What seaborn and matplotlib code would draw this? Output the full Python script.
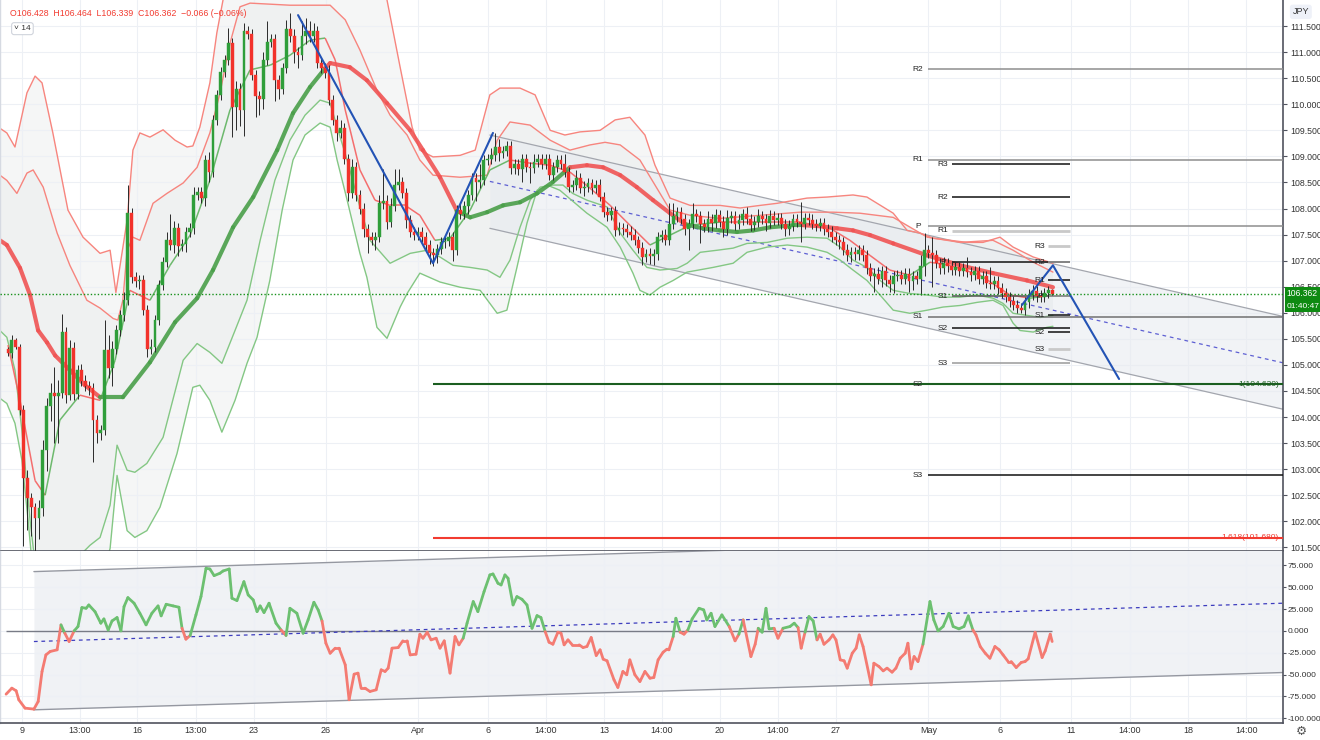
import numpy as np
import matplotlib
matplotlib.use("Agg")
import matplotlib.pyplot as plt
import seaborn as sns
from matplotlib.collections import LineCollection
from matplotlib.ticker import FormatStrFormatter
from matplotlib.transforms import blended_transform_factory

sns.set_theme(style="white")
plt.rcParams['font.family'] = ['Liberation Sans', 'DejaVu Sans']
plt.rcParams['axes.unicode_minus'] = False

# ---------------- data (USDJPY 4h bars, open = previous close) ----------------
first_open = 105.30
close_px = [
    105.22, 105.47, 105.35, 104.13, 102.83, 102.44, 102.27, 102.06, 102.25, 103.36,
    104.22, 104.46, 104.40, 104.46, 105.63, 104.42, 105.33, 104.45, 104.90, 104.70,
    104.60, 104.55, 103.94, 103.70, 103.75, 105.28, 104.95, 105.30, 105.66, 105.95,
    106.24, 107.91, 106.68, 106.60, 106.62, 106.05, 105.30, 105.35, 105.86, 106.53,
    106.97, 107.39, 107.30, 107.62, 107.28, 107.32, 107.55, 107.62, 108.26, 108.31,
    108.20, 108.93, 108.70, 109.70, 110.18, 110.62, 110.85, 111.17, 109.95, 110.30,
    109.89, 111.40, 111.35, 110.56, 110.15, 110.10, 110.85, 111.20, 111.25, 110.46,
    110.30, 110.70, 111.45, 111.30, 111.00, 110.95, 111.30, 111.40, 111.30, 111.40,
    110.80, 110.70, 110.60, 110.08, 109.70, 109.45, 109.55, 108.95, 108.30, 108.80,
    108.25, 108.00, 107.60, 107.45, 107.40, 107.45, 108.10, 108.15, 107.75, 108.05,
    108.45, 108.50, 108.30, 107.78, 107.55, 107.50, 107.55, 107.45, 107.30, 107.14,
    107.10, 107.22, 107.35, 107.38, 107.45, 107.20, 107.97, 107.90, 108.05, 108.26,
    108.58, 108.50, 108.55, 108.93, 108.95, 109.02, 109.18, 109.06, 109.10, 109.20,
    108.77, 108.85, 108.75, 108.95, 108.80, 108.78, 108.90, 108.95, 108.85, 108.95,
    108.64, 108.80, 108.93, 108.85, 108.70, 108.41, 108.45, 108.58, 108.39, 108.42,
    108.48, 108.40, 108.45, 108.22, 107.93, 107.88, 107.95, 107.58, 107.62, 107.60,
    107.55, 107.50, 107.40, 107.25, 107.07, 107.12, 107.08, 107.12, 107.45, 107.50,
    107.40, 107.70, 107.85, 107.93, 107.80, 107.60, 107.70, 107.90, 107.85, 107.70,
    107.65, 107.80, 107.72, 107.88, 107.75, 107.60, 107.82, 107.85, 107.70, 107.78,
    107.90, 107.80, 107.68, 107.75, 107.85, 107.80, 107.72, 107.86, 107.78, 107.82,
    107.70, 107.60, 107.66, 107.80, 107.75, 107.70, 107.82, 107.78, 107.70, 107.66,
    107.72, 107.60, 107.55, 107.45, 107.40, 107.35, 107.20, 107.10, 107.16, 107.12,
    107.20, 107.10, 106.85, 106.70, 106.75, 106.65, 106.80, 106.62, 106.55, 106.70,
    106.72, 106.65, 106.75, 106.60, 106.70, 106.65, 106.90, 107.20, 107.15, 107.10,
    106.95, 106.85, 106.95, 106.90, 106.82, 106.88, 106.80, 106.85, 106.78, 106.72,
    106.80, 106.65, 106.70, 106.58, 106.55, 106.60, 106.48, 106.38, 106.30, 106.22,
    106.15, 106.10, 106.05, 106.20, 106.35, 106.42, 106.33, 106.30, 106.38, 106.428, 106.362,
]
up_wick = [
    0.05, 0.10, 0.05, 0.05, 0.10, 0.15, 0.10, 0.08, 0.15, 0.20,
    0.15, 0.20, 0.50, 0.25, 0.35, 0.10, 0.15, 0.10, 0.10, 0.12,
    0.10, 0.10, 0.10, 0.10, 0.10, 0.58, 0.30, 0.15, 0.10, 0.10,
    0.15, 0.54, 0.10, 0.10, 0.10, 0.10, 0.10, 0.15, 0.10, 0.10,
    0.10, 0.15, 0.50, 0.15, 0.10, 0.10, 0.10, 0.10, 0.15, 0.10,
    0.10, 0.10, 0.15, 0.10, 0.10, 0.10, 0.10, 0.30, 0.10, 0.15,
    0.10, 0.15, 0.10, 0.10, 0.10, 0.10, 0.15, 0.40, 0.10, 0.10,
    0.10, 0.10, 0.17, 0.30, 0.15, 0.10, 0.30, 0.25, 0.20, 0.15,
    0.10, 0.10, 0.10, 0.15, 0.10, 0.10, 0.15, 0.10, 0.10, 0.15,
    0.10, 0.10, 0.10, 0.10, 0.10, 0.10, 0.15, 0.60, 0.10, 0.15,
    0.30, 0.25, 0.10, 0.10, 0.10, 0.10, 0.10, 0.10, 0.10, 0.10,
    0.10, 0.10, 0.10, 0.10, 0.10, 0.10, 0.10, 0.15, 0.10, 0.10,
    0.10, 0.10, 0.30, 0.10, 0.10, 0.15, 0.27, 0.15, 0.10, 0.10,
    0.10, 0.10, 0.10, 0.10, 0.10, 0.10, 0.15, 0.10, 0.10, 0.10,
    0.10, 0.10, 0.10, 0.10, 0.20, 0.10, 0.10, 0.15, 0.10, 0.10,
    0.10, 0.08, 0.10, 0.12, 0.10, 0.10, 0.08, 0.10, 0.12, 0.10,
    0.10, 0.12, 0.10, 0.08, 0.10, 0.10, 0.12, 0.10, 0.10, 0.08,
    0.10, 0.40, 0.25, 0.10, 0.10, 0.10, 0.10, 0.20, 0.10, 0.10,
    0.10, 0.15, 0.10, 0.12, 0.10, 0.10, 0.15, 0.10, 0.10, 0.12,
    0.10, 0.12, 0.10, 0.10, 0.15, 0.10, 0.10, 0.12, 0.10, 0.10,
    0.10, 0.10, 0.12, 0.10, 0.10, 0.38, 0.10, 0.10, 0.12, 0.10,
    0.10, 0.10, 0.10, 0.12, 0.10, 0.10, 0.10, 0.12, 0.10, 0.10,
    0.10, 0.10, 0.10, 0.10, 0.10, 0.12, 0.10, 0.10, 0.10, 0.10,
    0.10, 0.10, 0.10, 0.10, 0.10, 0.10, 0.20, 0.33, 0.10, 0.30,
    0.10, 0.10, 0.12, 0.10, 0.10, 0.10, 0.10, 0.10, 0.22, 0.10,
    0.10, 0.10, 0.10, 0.10, 0.30, 0.10, 0.10, 0.10, 0.10, 0.10,
    0.10, 0.10, 0.08, 0.10, 0.10, 0.12, 0.10, 0.10, 0.10, 0.08, 0.036,
]
dn_wick = [
    0.05, 0.08, 0.05, 0.10, 1.30, 0.60, 0.55, 0.90, 0.40, 0.15,
    0.40, 0.30, 0.90, 0.90, 0.10, 0.15, 0.10, 0.12, 0.10, 0.10,
    0.10, 0.12, 0.80, 0.20, 0.15, 0.10, 0.20, 0.35, 0.10, 0.10,
    0.10, 0.10, 0.10, 0.10, 0.15, 0.10, 0.15, 0.10, 0.10, 0.10,
    0.10, 0.10, 0.10, 0.15, 0.20, 0.10, 0.15, 0.10, 0.10, 0.10,
    0.10, 0.15, 0.20, 0.10, 0.10, 0.10, 0.10, 0.10, 0.58, 0.45,
    0.30, 0.50, 0.10, 0.10, 0.40, 0.30, 0.20, 0.10, 0.10, 0.40,
    0.20, 0.10, 0.10, 0.10, 0.20, 0.25, 0.10, 0.15, 0.10, 0.10,
    0.10, 0.10, 0.10, 0.10, 0.10, 0.15, 0.10, 0.10, 0.15, 0.10,
    0.10, 0.10, 0.15, 0.30, 0.10, 0.20, 0.10, 0.10, 0.15, 0.10,
    0.10, 0.10, 0.10, 0.15, 0.10, 0.10, 0.10, 0.10, 0.10, 0.20,
    0.20, 0.15, 0.10, 0.10, 0.10, 0.20, 0.10, 0.10, 0.10, 0.15,
    0.10, 0.35, 0.10, 0.10, 0.10, 0.10, 0.10, 0.15, 0.10, 0.10,
    0.10, 0.10, 0.10, 0.25, 0.10, 0.30, 0.10, 0.10, 0.10, 0.10,
    0.10, 0.10, 0.10, 0.10, 0.10, 0.10, 0.10, 0.10, 0.10, 0.15,
    0.10, 0.12, 0.10, 0.08, 0.10, 0.12, 0.10, 0.10, 0.08, 0.10,
    0.10, 0.10, 0.10, 0.10, 0.16, 0.10, 0.15, 0.17, 0.10, 0.10,
    0.10, 0.10, 0.10, 0.10, 0.10, 0.10, 0.40, 0.10, 0.10, 0.37,
    0.10, 0.10, 0.15, 0.10, 0.10, 0.15, 0.10, 0.10, 0.12, 0.10,
    0.10, 0.10, 0.12, 0.10, 0.10, 0.10, 0.15, 0.10, 0.10, 0.10,
    0.10, 0.12, 0.10, 0.10, 0.10, 0.35, 0.10, 0.10, 0.10, 0.10,
    0.10, 0.10, 0.10, 0.10, 0.10, 0.12, 0.10, 0.10, 0.12, 0.10,
    0.10, 0.10, 0.10, 0.10, 0.30, 0.10, 0.15, 0.10, 0.15, 0.18,
    0.10, 0.10, 0.10, 0.20, 0.17, 0.10, 0.30, 0.20, 0.10, 0.60,
    0.10, 0.10, 0.10, 0.12, 0.10, 0.10, 0.10, 0.10, 0.10, 0.12,
    0.10, 0.10, 0.10, 0.10, 0.10, 0.10, 0.12, 0.10, 0.10, 0.10,
    0.10, 0.10, 0.05, 0.10, 0.10, 0.10, 0.13, 0.10, 0.10, 0.10, 0.023,
]

# envelope bands (bar index, price)
uo_x = [-2.1, -0.3, 1.8, 4.9, 7.0, 8.8, 11.6, 15.5, 19.4, 23.8, 26.4, 27.9, 30.8, 32.3, 34.1,
        36.7, 40.1, 43.2, 46.3, 47.8, 49.6, 52.2, 54.0, 55.6, 57.4, 75.5, 94.9, 98.0, 101.4, 104.5,
        106.5, 109.9, 116.9, 120.8, 124.6, 127.2, 132.4, 136.3, 140.2, 144.0, 147.9, 153.1, 157.0,
        160.8, 164.7, 167.3, 171.2, 176.4, 184.1, 189.3, 194.5, 198.9, 206.6, 211.8, 218.5, 222.1,
        228.9, 232.5, 235.8, 239.2, 243.6, 248.0, 252.1, 256.5, 259.9, 265.1, 270.2]
uo_y = [109.54, 109.45, 109.18, 110.22, 110.54, 110.41, 109.45, 107.97, 107.45, 107.14, 107.20,
        106.39, 107.78, 109.12, 109.45, 109.37, 109.51, 109.31, 109.18, 109.20, 109.56, 110.41,
        111.37, 112.00, 112.48, 112.77, 112.48, 112.00, 110.71, 109.56, 109.12, 108.99, 109.02,
        109.12, 110.18, 110.31, 110.31, 110.18, 109.50, 109.41, 109.47, 109.50, 109.70, 109.75,
        109.41, 108.83, 108.20, 108.06, 108.06, 108.01, 108.06, 108.10, 108.20, 108.22, 108.26,
        108.22, 107.91, 107.58, 107.53, 107.43, 107.39, 107.35, 107.35, 107.45, 107.26, 107.07, 106.95]
ui_x = [-2.1, -0.3, 2.3, 4.9, 6.5, 9.1, 12.7, 16.0, 20.4, 23.8, 27.2, 28.4, 29.7, 30.8, 32.3,
        34.1, 37.5, 41.1, 45.3, 48.9, 52.2, 54.8, 57.4, 60.0, 62.6, 72.9, 83.3, 87.2, 91.0, 95.4,
        98.8, 103.2, 106.5, 109.9, 116.9, 123.9, 126.5, 129.8, 135.0, 140.2, 145.3, 150.5, 154.4,
        158.3, 163.4, 167.3, 171.2, 176.4, 184.1, 194.5, 204.8, 213.3, 220.3, 228.9, 237.7, 246.2,
        254.7, 259.9, 265.1, 270.2]
ui_y = [108.64, 108.54, 108.29, 108.68, 108.74, 108.41, 107.53, 106.91, 106.24, 106.09, 105.89,
        105.86, 106.24, 107.20, 107.45, 107.39, 108.10, 108.29, 108.49, 108.79, 109.45, 110.21,
        111.17, 111.87, 111.94, 111.90, 111.90, 111.62, 111.04, 110.27, 109.79, 109.41, 108.93,
        108.64, 108.60, 108.64, 109.31, 109.66, 109.60, 109.31, 109.12, 109.22, 109.27, 109.22,
        108.93, 108.45, 107.97, 107.87, 107.81, 107.87, 107.93, 107.93, 107.91, 107.83, 107.45,
        107.35, 107.39, 107.20, 106.97, 106.78]
la_x = [-2.1, -0.3, 1.8, 3.6, 5.7, 7.2, 13.4, 17.3, 21.2, 23.8, 26.4, 28.2, 30.8, 32.8, 35.9,
        40.1, 45.3, 48.9, 52.2, 55.3, 58.7, 61.8, 65.2, 69.0, 72.9, 76.8, 80.7, 83.3, 85.1, 87.7,
        91.0, 93.6, 98.8, 104.0, 108.4, 111.7, 115.1, 119.5, 123.9, 127.2, 129.8, 132.4, 135.0,
        137.6, 140.9, 143.5, 146.0, 149.7, 154.9, 158.3, 161.6, 165.2, 168.6, 173.0, 175.6, 179.0,
        183.4, 187.5, 191.1, 196.3, 201.5, 206.6, 211.8, 215.2, 218.5, 222.1, 225.5, 228.9, 233.2,
        237.7, 241.8, 246.2, 250.6, 254.7, 257.3, 259.9, 263.5, 266.9, 270.2]
la_y = [105.66, 105.53, 104.90, 103.74, 102.02, 101.06, 100.86, 101.25, 101.54, 101.69, 102.31,
        103.46, 102.98, 102.94, 103.11, 103.61, 105.09, 105.41, 105.24, 105.03, 105.66, 106.24,
        107.39, 108.54, 109.31, 109.79, 110.08, 110.02, 109.56, 108.93, 108.03, 107.39, 106.95,
        107.14, 107.20, 107.07, 106.91, 106.87, 106.82, 106.68, 107.01, 107.64, 108.16, 108.41,
        108.45, 108.45, 108.29, 108.16, 108.03, 107.53, 107.20, 106.87, 106.82, 106.85, 106.95,
        107.16, 107.20, 107.24, 107.33, 107.35, 107.43, 107.45, 107.43, 107.26, 107.01, 106.87,
        106.62, 106.43, 106.37, 106.34, 106.30, 106.30, 106.34, 106.28, 106.18, 105.99, 105.95,
        105.91, 105.95]
lb_x = [-2.1, -0.3, 1.8, 3.6, 5.2, 6.5, 13.4, 23.8, 26.4, 28.2, 30.8, 32.8, 35.9, 39.3, 43.7,
        47.8, 49.6, 52.2, 55.3, 58.7, 61.8, 64.4, 67.7, 70.9, 73.7, 76.8, 80.7, 83.3, 85.1, 87.7,
        91.0, 92.8, 95.4, 98.0, 101.4, 103.2, 106.5, 111.7, 116.9, 122.1, 126.5, 129.0, 131.6,
        134.2, 136.8, 139.4, 142.7, 149.7, 154.9, 158.3, 161.6, 163.4, 166.0, 168.6, 172.0, 175.6,
        182.3, 187.5, 191.1, 196.3, 201.5, 206.6, 211.8, 215.2, 218.5, 222.1, 225.5, 228.9, 233.2,
        237.7, 241.8, 246.2, 250.6, 254.7, 257.3, 259.9, 261.7, 265.1, 268.6, 270.2]
lb_y = [104.36, 104.26, 103.88, 103.17, 102.02, 100.96, 100.77, 100.77, 101.48, 102.88, 101.82,
        101.69, 101.82, 102.27, 103.30, 104.57, 104.61, 104.32, 103.71, 104.32, 105.03, 105.53,
        106.62, 107.97, 108.93, 109.41, 109.64, 109.56, 108.93, 108.16, 107.14, 106.68, 105.72,
        105.51, 106.11, 106.37, 106.76, 106.59, 106.49, 106.43, 105.99, 106.05, 106.87, 107.72,
        108.35, 108.45, 108.35, 107.91, 107.64, 107.26, 106.76, 106.43, 106.34, 106.49, 106.62,
        106.78, 106.87, 106.95, 107.16, 107.26, 107.30, 107.26, 107.16, 107.01, 106.82, 106.62,
        106.34, 106.05, 105.99, 106.05, 106.11, 106.14, 106.20, 106.24, 106.14, 105.80, 105.66,
        105.63, 105.72, 105.74]

# fast line hugging price
fast_x = [0.0, 3.1, 7.0, 9.6, 13.4, 18.6, 23.8, 27.7, 31.5, 36.7, 41.9, 47.1, 52.2, 57.4, 62.6,
          67.8, 72.9, 78.1, 82.0, 84.6, 87.2, 91.0, 94.9, 98.8, 102.7, 106.5, 110.4, 114.3, 119.5,
          124.6, 129.8, 135.0, 140.2, 145.3, 150.5, 155.7, 160.8, 166.0, 171.2, 176.4, 184.1, 194.5,
          204.8, 212.6, 217.7, 222.9, 228.0, 233.2, 238.4, 243.6, 251.4, 259.1, 264.3, 270.2]
fast_y = [105.38, 104.32, 102.78, 102.50, 103.94, 104.42, 104.32, 105.09, 106.43, 106.24, 106.91,
          107.49, 108.54, 109.89, 110.66, 110.75, 110.94, 111.23, 111.27, 110.85, 109.89, 108.74,
          108.16, 108.06, 108.06, 107.87, 107.39, 107.43, 107.97, 108.74, 108.93, 108.87, 108.83,
          108.70, 108.39, 108.06, 107.68, 107.30, 107.49, 107.68, 107.74, 107.74, 107.74, 107.62,
          107.39, 107.10, 106.82, 106.72, 106.97, 106.91, 106.72, 106.34, 106.28, 106.34]

# thick trend line and its state (1 = bullish segment)
trend_x = [-2.1, -0.3, 3.1, 5.7, 7.8, 10.1, 12.2, 16.0, 19.9, 23.8,
           29.7, 36.7, 43.2, 48.9, 53.0, 58.2, 63.4, 69.6, 73.7, 78.1, 82.0,
           83.3, 88.4, 92.8, 98.0, 104.0, 107.3, 111.7, 116.1,
           119.5, 123.9, 128.0, 132.4, 136.8, 140.9, 145.3,
           149.7, 153.9, 158.3, 162.6, 166.8, 171.2, 175.1,
           179.7, 184.1, 188.5, 192.7, 197.1, 203.0, 205.6,
           210.0, 214.4, 218.5, 222.9, 228.9, 237.7, 246.2, 254.7, 263.5, 270.2]
trend_y = [107.39, 107.30, 106.86, 106.34, 105.66, 105.43, 105.18, 104.90, 104.61, 104.38,
           104.38, 105.05, 105.82, 106.28, 106.82, 107.64, 108.22, 109.12, 109.83, 110.33, 110.69,
           110.79, 110.71, 110.46, 110.02, 109.50, 109.12, 108.60, 107.95,
           107.83, 107.93, 108.06, 108.12, 108.29, 108.51, 108.79,
           108.83, 108.79, 108.64, 108.41, 108.16, 107.91, 107.70,
           107.62, 107.58, 107.55, 107.58, 107.64, 107.68, 107.68,
           107.66, 107.62, 107.58, 107.49, 107.33, 107.10, 106.91, 106.76, 106.62, 106.49]
trend_bull = [0, 0, 0, 0, 0, 0, 0, 0, 0, 1,
              1, 1, 1, 1, 1, 1, 1, 1, 1, 1, 0,
              0, 0, 0, 0, 0, 0, 0, 1,
              1, 1, 1, 1, 1, 1, 0,
              0, 0, 0, 0, 0, 0, 1,
              1, 1, 1, 1, 1, 1, 0,
              0, 0, 0, 0, 0, 0, 0, 0, 0, 0]

# drawings: descending channel, ABCD legs
chan_x = [124.6, 329.7]
chan_hi = [109.41, 105.93]
chan_lo = [107.62, 104.15]
chan_mid = [108.52, 105.04]
leg1_x = [75.0, 109.9, 125.4]
leg1_y = [111.71, 106.95, 109.45]
leg2_x = [262.2, 270.2, 287.3]
leg2_y = [106.15, 106.91, 104.73]

# pivot levels (three pivot sets) and fib extensions
piv1_names = ['R2', 'R1', 'P', 'S1', 'S2', 'S3']
piv1_levels = [110.67, 108.94, 107.66, 105.92, 104.63, 102.88]
piv1_colors = ['#8e8e8e', '#8e8e8e', '#8e8e8e', '#707070', '#333333', '#111111']
piv2_names = ['R3', 'R2', 'R1', 'P', 'S1', 'S2', 'S3']
piv2_levels = [108.85, 108.22, 107.57, 106.97, 106.32, 105.70, 105.03]
piv2_colors = ['#111111', '#111111', '#c9c9c9', '#111111', '#555555', '#111111', '#9a9a9a']
piv3_names = ['R3', 'R2', 'R1', 'P', 'S1', 'S2', 'S3']
piv3_levels = [107.28, 106.97, 106.62, 106.32, 105.95, 105.63, 105.30]
piv3_colors = ['#c9c9c9', '#9a9a9a', '#111111', '#9a9a9a', '#111111', '#111111', '#c9c9c9']
fib_names = ['1(104.630)', '1.618(101.680)']
fib_levels = [104.63, 101.68]
fib_colors = ['#1b5e20', '#f23b30']

# oscillator (bar index, value)
osc_pts = [(-0.5, -72.5), (1.0, -65.6), (2.1, -68.6), (2.8, -79.0), (4.4, -88.5), (6.7, -89.6),
           (7.8, -80.9), (8.8, -46.5), (9.8, -27.5), (10.9, -23.6), (12.7, -21.7), (13.7, 6.9),
           (14.7, -2.7), (15.8, -12.2), (17.1, 0.0), (18.1, 5.0), (19.1, 26.7), (20.2, 25.9),
           (20.9, 29.7), (22.5, 22.0), (24.0, 8.8), (24.8, 13.7), (25.9, 1.0), (26.9, 11.4),
           (28.2, 15.3), (29.2, 0.0), (30.0, 27.8), (31.0, 38.1), (32.6, 31.7), (34.1, 20.2),
           (35.7, 6.9), (37.2, 20.2), (38.8, 28.6), (39.6, 17.2), (40.9, 30.5), (42.7, 28.6),
           (44.2, 27.1), (45.0, 3.0), (46.0, -9.5), (47.1, -5.3), (48.6, 18.3), (49.9, 39.3),
           (51.2, 71.7), (52.2, 70.9), (53.3, 63.3), (54.8, 66.0), (55.6, 68.6), (57.2, 70.9),
           (57.9, 37.4), (59.2, 34.7), (61.0, 56.4), (62.1, 41.2), (63.4, 35.5), (64.4, 22.1),
           (65.2, 28.6), (66.2, 21.0), (67.5, 31.7), (69.3, 8.8), (70.6, 1.1), (71.9, -5.3),
           (72.9, 25.9), (74.7, 20.2), (76.3, -2.7), (77.6, 12.6), (79.1, 32.8), (80.2, 24.0),
           (81.2, 11.4), (82.2, -14.1), (83.3, -25.6), (84.6, -19.8), (85.6, -19.8), (87.2, -38.9),
           (88.2, -78.9), (89.5, -49.6), (90.5, -48.4), (91.3, -65.6), (92.3, -65.6), (93.6, -69.4),
           (95.2, -67.5), (96.5, -44.6), (97.5, -46.5), (98.3, -42.7), (99.3, -19.8), (100.9, -19.1),
           (102.1, -11.4), (103.2, -11.4), (104.0, -27.5), (105.5, -26.7), (106.5, -3.8), (107.3, -8.4),
           (108.4, -1.5), (109.4, -10.3), (110.7, -8.4), (111.7, -19.8), (112.8, -11.4), (114.3, -48.4),
           (115.6, -6.5), (116.6, -16.0), (117.7, -8.4), (118.7, 8.8), (120.3, 33.6), (121.5, 22.1),
           (123.1, 45.0), (124.6, 64.1), (125.4, 65.2), (126.7, 54.5), (127.5, 52.6), (128.5, 64.1),
           (129.3, 60.3), (130.6, 29.7), (131.6, 39.3), (132.9, 36.2), (134.2, 29.7), (135.5, 3.0),
           (136.8, 17.5), (137.8, 15.3), (138.9, -0.8), (139.9, -13.0), (140.9, -15.3), (142.2, -1.5),
           (143.0, -2.7), (143.8, -16.0), (144.8, -10.3), (145.9, -16.0), (147.7, -16.0), (148.7, -19.1),
           (149.7, -17.9), (150.8, -7.6), (152.1, -28.2), (153.1, -21.7), (153.9, -32.4), (154.9, -34.3),
           (156.7, -56.1), (157.7, -64.8), (159.0, -46.5), (160.0, -50.3), (160.8, -33.2), (162.1, -50.3),
           (163.4, -58.0), (164.7, -46.5), (166.0, -54.2), (167.0, -53.4), (168.1, -33.2), (169.4, -24.4),
           (170.4, -21.0), (170.9, -21.7), (172.0, -6.5), (172.7, 14.5), (173.8, -1.5), (174.8, -3.8),
           (175.8, 1.1), (176.9, 13.7), (178.7, 25.9), (179.9, 24.0), (180.7, 12.6), (181.8, 20.2),
           (182.8, 5.0), (184.6, 18.3), (186.5, 5.0), (188.0, -11.4), (189.0, -3.8), (190.1, 12.6),
           (192.1, -29.4), (193.2, -15.3), (194.0, 3.0), (195.0, -1.5), (196.0, 25.9), (196.8, 2.3),
           (198.1, 3.0), (199.1, -8.4), (200.4, 3.0), (202.2, 5.0), (203.3, 8.8), (204.3, 3.8),
           (205.1, -19.8), (206.1, -1.5), (207.1, 16.4), (208.2, 11.4), (209.2, -10.3), (210.0, -3.8),
           (211.0, -15.3), (212.3, -10.3), (213.3, -4.6), (214.1, -10.3), (215.2, -33.2), (216.2, -34.3),
           (217.0, -42.7), (218.3, -25.6), (219.3, -19.8), (220.1, -4.6), (221.1, -17.9), (223.2, -61.8),
           (223.9, -37.0), (225.2, -40.8), (226.3, -45.8), (227.3, -42.7), (228.6, -47.3), (229.6, -42.7),
           (230.7, -31.3), (232.0, -25.6), (232.7, -14.1), (233.5, -43.5), (234.3, -29.4), (235.3, -35.1),
           (236.6, -15.3), (238.4, 33.6), (239.4, 12.6), (240.5, 0.0), (241.8, 5.0), (243.3, 20.2),
           (244.4, 5.0), (245.9, 2.3), (247.2, 5.0), (248.3, 17.2), (249.5, 1.1), (250.3, -4.6),
           (251.4, -17.9), (252.7, -25.6), (253.9, -31.3), (255.2, -17.9), (256.3, -21.7), (257.3, -27.5),
           (258.6, -35.1), (259.4, -35.1), (260.7, -42.0), (262.0, -36.2), (263.0, -35.1), (263.8, -32.0),
           (265.6, -1.5), (267.4, -30.5), (268.2, -22.9), (269.5, -3.8), (270.0, -12.2)]
osc_chan_x = [6.7, 329.7]
osc_chan_hi = [67.9, 112.0]
osc_chan_lo = [-90.4, -47.7]
osc_chan_mid = [-12.2, 31.7]

tick_pos = [3.6, 18.6, 33.4, 48.6, 63.6, 82.2, 106.0, 124.1, 139.1, 154.1, 169.1, 184.1,
            199.1, 214.1, 238.0, 256.5, 274.9, 290.1, 305.2, 320.2]
tick_lbl = ['9', '13:00', '16', '13:00', '23', '26', 'Apr', '6', '14:00', '13', '14:00', '20',
            '14:00', '27', 'May', '6', '11', '14:00', '18', '14:00']

# ---------------- figure ----------------
UP, DOWN = '#2f9e3a', '#f2322b'
AXC = '#50535e'

fig = plt.figure(figsize=(13.2, 7.4), dpi=100)
ax = fig.add_axes([0.0, 0.2554, 0.972, 0.7446])
ax2 = fig.add_axes([0.0, 0.0230, 0.972, 0.2324], sharex=ax)

# envelope shading
ax.fill(np.r_[uo_x, lb_x[::-1]], np.r_[uo_y, lb_y[::-1]], color='#f5f6f6', lw=0, zorder=0.5)
ax.fill(np.r_[ui_x, la_x[::-1]], np.r_[ui_y, la_y[::-1]], color='#eff1f1', lw=0, zorder=0.6)

# channel
ax.fill_between(chan_x, chan_lo, chan_hi, color='#e8ebf0', alpha=0.6, lw=0, zorder=0.8)
ax.plot(chan_x, chan_hi, color='#a3a6ae', lw=0.9, zorder=1.5)
ax.plot(chan_x, chan_lo, color='#a3a6ae', lw=0.9, zorder=1.5)
ax.plot(chan_x, chan_mid, color='#5d5fd3', lw=0.9, ls=(0, (3, 3)), zorder=1.5)

# bands
for bx, by, col in [(uo_x, uo_y, '#f7857e'), (ui_x, ui_y, '#f7857e'),
                    (la_x, la_y, '#84c784'), (lb_x, lb_y, '#84c784')]:
    sns.lineplot(x=bx, y=by, ax=ax, color=col, lw=1.0, sort=False, estimator=None,
                 legend=False, zorder=2)

# fast line, coloured by direction
fp = np.column_stack([fast_x, fast_y])
fseg = np.stack([fp[:-1], fp[1:]], axis=1)
fcol = [('#5fb35f' if b > a else '#f56060') for a, b in zip(fast_y[:-1], fast_y[1:])]
ax.add_collection(LineCollection(fseg, colors=fcol, linewidths=1.1, alpha=0.9, zorder=2.1))

# thick trend line
tp = np.column_stack([trend_x, trend_y])
tseg = np.stack([tp[:-1], tp[1:]], axis=1)
tcol = [('#4a9f4a' if s else '#f05454') for s in trend_bull[:-1]]
ax.add_collection(LineCollection(tseg, colors=tcol, linewidths=3.0, alpha=0.9,
                                 capstyle='round', zorder=2.2))

# candles
closes = np.array(close_px)
opens = np.concatenate([[first_open], closes[:-1]])
highs = np.maximum(opens, closes) + np.array(up_wick)
lows = np.minimum(opens, closes) - np.array(dn_wick)
idx = np.arange(len(closes))
cols = np.where(closes >= opens, UP, DOWN)
ax.vlines(idx, lows, highs, color='#2a2a2a', lw=0.7, zorder=3)
ax.bar(idx, np.maximum(np.abs(closes - opens), 0.015), bottom=np.minimum(opens, closes),
       width=0.72, color=cols, edgecolor=cols, lw=0.3, zorder=3.2)

# pivots
def draw_pivots(names, levels, colors, x0, x1, xlab):
    for n, lv, c in zip(names, levels, colors):
        lw = 2.0 if c == '#c9c9c9' else 1.1
        ax.hlines(lv, x0, x1, color=c, lw=lw, zorder=2.6)
        ax.text(xlab, lv, n, fontsize=6, color='#222', ha='center', va='center', zorder=5)

draw_pivots(piv1_names, piv1_levels, piv1_colors, 238.0, 329.7, 235.3)
draw_pivots(piv2_names, piv2_levels, piv2_colors, 244.1, 274.6, 241.8)
draw_pivots(piv3_names, piv3_levels, piv3_colors, 268.9, 274.6, 266.9)

for n, lv, c in zip(fib_names, fib_levels, fib_colors):
    ax.hlines(lv, 109.9, 329.7, color=c, lw=1.5, zorder=2.7)
    ax.text(328.6, lv, n, fontsize=6, color=c, ha='right', va='center', zorder=5)

# ABCD legs
ax.plot(leg1_x, leg1_y, color='#2353b5', lw=1.5, zorder=4)
ax.plot(leg2_x, leg2_y, color='#2353b5', lw=1.5, zorder=4)

# current price line
last = closes[-1]
ax.axhline(last, color='#17911b', lw=1.0, ls=(0, (1, 1.5)), zorder=4)

# ---------------- oscillator panel ----------------
ox = np.array([p[0] for p in osc_pts])
ov = np.array([p[1] for p in osc_pts])
ax2.fill_between(osc_chan_x, osc_chan_lo, osc_chan_hi, color='#f0f2f5', lw=0, zorder=0.5)
ax2.plot(osc_chan_x, osc_chan_hi, color='#9598a1', lw=1.0, zorder=1)
ax2.plot(osc_chan_x, osc_chan_lo, color='#9598a1', lw=1.0, zorder=1)
ax2.plot(osc_chan_x, osc_chan_mid, color='#3c3cbe', lw=0.9, ls=(0, (3, 3)), zorder=1.2)
ax2.hlines(0, ox[0], ox[-1], color='#787b86', lw=1.0, zorder=1.1)
op = np.column_stack([ox, ov])
oseg = np.stack([op[:-1], op[1:]], axis=1)
ocol = [('#6cc070' if (a + b) > 0 else '#f47b72') for a, b in zip(ov[:-1], ov[1:])]
ax2.add_collection(LineCollection(oseg, colors=ocol, linewidths=2.0, zorder=2,
                                  capstyle='round', joinstyle='round'))

# ---------------- axes cosmetics ----------------
ax.set_xlim(-2.07, 329.7)
ax.set_ylim(101.43, 112.0)
ax2.set_ylim(-105.5, 91.5)
ax.set_xticks(tick_pos)
ax2.set_xticklabels(tick_lbl)
ax.set_yticks(np.arange(101.5, 111.6, 0.5))
ax2.set_yticks(np.arange(-100, 76, 25))
for a in (ax, ax2):
    a.yaxis.tick_right()
    a.yaxis.set_major_formatter(FormatStrFormatter('%.3f'))
    a.grid(True, color='#edf0f5', lw=0.8)
    a.set_axisbelow(True)
    a.tick_params(axis='y', labelsize=6.3, length=3, width=0.8, color=AXC,
                  labelcolor='#333333', pad=2)
    a.set_xlabel('')
    a.set_ylabel('')
    a.spines['top'].set_visible(False)
    a.spines['left'].set_color('#d6dae2')
    a.spines['left'].set_linewidth(1.0)
    for s in ('right', 'bottom'):
        a.spines[s].set_color(AXC)
        a.spines[s].set_linewidth(1.2)
ax2.tick_params(axis='y', labelsize=6.0, length=2, pad=1.2)
ax.tick_params(axis='x', bottom=False, labelbottom=False, length=0)
ax2.tick_params(axis='x', bottom=False, labelbottom=True, length=0, labelsize=6.5,
                labelcolor='#333333', pad=2.5)

# header and price tags
ax.text(0.008, 0.975, 'O106.428  H106.464  L106.339  C106.362  \u22120.066 (\u22120.06%)',
        transform=ax.transAxes, fontsize=6.3, color='#f23b30', va='center', ha='left')
ax.text(0.011, 0.948, '\u02c5 14', transform=ax.transAxes, fontsize=6, color='#333',
        va='center', ha='left',
        bbox=dict(boxstyle='round,pad=0.3', fc='white', ec='#d0d4dc', lw=0.8))
tr = blended_transform_factory(ax.transAxes, ax.transData)
ax.text(1.003, last, f'{last:.3f}', transform=tr, fontsize=6.2, color='white', ha='left',
        va='center', clip_on=False, zorder=10,
        bbox=dict(boxstyle='square,pad=0.25', fc='#0e8a12', ec='none'))
ax.annotate('01:40:47', xy=(1.003, last), xycoords=tr, xytext=(0, -9.2),
            textcoords='offset points', fontsize=6.0, color='white', ha='left', va='center',
            annotation_clip=False, zorder=10,
            bbox=dict(boxstyle='square,pad=0.25', fc='#0e8a12', ec='none'))
fig.text(0.9855, 0.984, 'JPY', fontsize=6.5, color='#333', ha='center', va='center',
         bbox=dict(boxstyle='round,pad=0.3', fc='#eef1f8', ec='none'))
fig.text(0.986, 0.012, '\u2699', fontsize=9, color='#555', ha='center', va='center',
         family='DejaVu Sans')

fig.savefig('out.png', dpi=100)
